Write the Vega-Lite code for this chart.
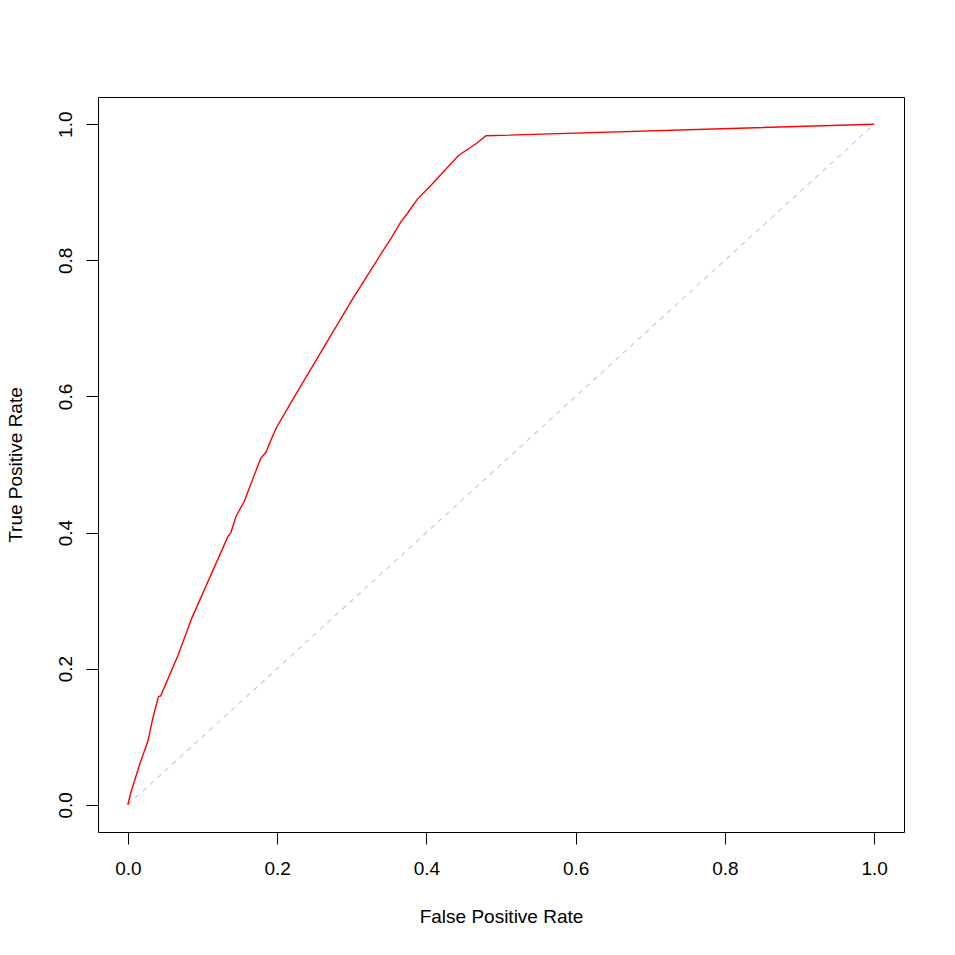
{
  "$schema": "https://vega.github.io/schema/vega-lite/v6.json",
  "width": 806,
  "height": 735,
  "autosize": {"type": "none"},
  "padding": {"left": 98, "top": 97, "right": 51, "bottom": 123},
  "background": "white",
  "config": {
    "view": {"stroke": "black", "strokeWidth": 1},
    "font": "Liberation Sans",
    "axis": {
      "domain": false,
      "grid": false,
      "tickColor": "black",
      "tickSize": 12,
      "tickWidth": 1,
      "labelFont": "Liberation Sans",
      "labelFontSize": 19,
      "labelColor": "black",
      "titleFont": "Liberation Sans",
      "titleFontSize": 19,
      "titleFontWeight": "normal",
      "titleColor": "black"
    }
  },
  "datasets": {
    "roc": [
      {"i": 0, "fpr": 0.0, "tpr": 0.0},
      {"i": 1, "fpr": 0.004, "tpr": 0.018},
      {"i": 2, "fpr": 0.016, "tpr": 0.060},
      {"i": 3, "fpr": 0.027, "tpr": 0.094},
      {"i": 4, "fpr": 0.033, "tpr": 0.125},
      {"i": 5, "fpr": 0.041, "tpr": 0.159},
      {"i": 6, "fpr": 0.044, "tpr": 0.160},
      {"i": 7, "fpr": 0.067, "tpr": 0.219},
      {"i": 8, "fpr": 0.086, "tpr": 0.275},
      {"i": 9, "fpr": 0.134, "tpr": 0.394},
      {"i": 10, "fpr": 0.138, "tpr": 0.400},
      {"i": 11, "fpr": 0.145, "tpr": 0.424},
      {"i": 12, "fpr": 0.156, "tpr": 0.446},
      {"i": 13, "fpr": 0.178, "tpr": 0.509},
      {"i": 14, "fpr": 0.185, "tpr": 0.518},
      {"i": 15, "fpr": 0.191, "tpr": 0.534},
      {"i": 16, "fpr": 0.199, "tpr": 0.554},
      {"i": 17, "fpr": 0.217, "tpr": 0.588},
      {"i": 18, "fpr": 0.237, "tpr": 0.625},
      {"i": 19, "fpr": 0.301, "tpr": 0.743},
      {"i": 20, "fpr": 0.339, "tpr": 0.809},
      {"i": 22, "fpr": 0.352, "tpr": 0.831},
      {"i": 23, "fpr": 0.366, "tpr": 0.857},
      {"i": 24, "fpr": 0.376, "tpr": 0.871},
      {"i": 25, "fpr": 0.388, "tpr": 0.890},
      {"i": 26, "fpr": 0.405, "tpr": 0.909},
      {"i": 27, "fpr": 0.443, "tpr": 0.954},
      {"i": 28, "fpr": 0.466, "tpr": 0.971},
      {"i": 29, "fpr": 0.480, "tpr": 0.983},
      {"i": 30, "fpr": 1.0, "tpr": 1.0}
    ],
    "diag": [
      {"i": 0, "fpr": 0.0, "tpr": 0.0},
      {"i": 1, "fpr": 1.0, "tpr": 1.0}
    ]
  },
  "layer": [
    {
      "data": {"name": "diag"},
      "mark": {"type": "line", "color": "#c8c8c8", "strokeWidth": 1.1, "strokeDash": [5, 5], "clip": true},
      "encoding": {
        "x": {"field": "fpr", "type": "quantitative"},
        "y": {"field": "tpr", "type": "quantitative"},
        "order": {"field": "i"}
      }
    },
    {
      "data": {"name": "roc"},
      "mark": {"type": "line", "color": "#ff0000", "strokeWidth": 1.4, "clip": true},
      "encoding": {
        "x": {
          "field": "fpr",
          "type": "quantitative",
          "scale": {"domain": [-0.04, 1.04], "nice": false, "zero": false},
          "axis": {
            "values": [0, 0.2, 0.4, 0.6, 0.8, 1.0],
            "format": ".1f",
            "labelPadding": 15,
            "labelBaseline": "top",
            "title": "False Positive Rate",
            "titleY": 84,
            "titleBaseline": "middle"
          }
        },
        "y": {
          "field": "tpr",
          "type": "quantitative",
          "scale": {"domain": [-0.04, 1.04], "nice": false, "zero": false},
          "axis": {
            "values": [0, 0.2, 0.4, 0.6, 0.8, 1.0],
            "format": ".1f",
            "labelAngle": 270,
            "labelAlign": "center",
            "labelBaseline": "middle",
            "labelPadding": 21,
            "title": "True Positive Rate",
            "titleAngle": 270,
            "titleX": -83,
            "titleBaseline": "middle"
          }
        },
        "order": {"field": "i"}
      }
    }
  ]
}
